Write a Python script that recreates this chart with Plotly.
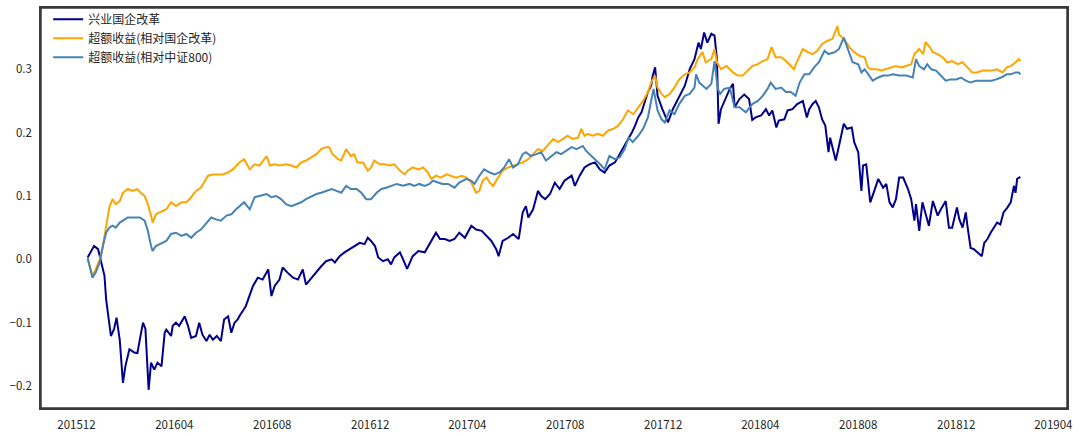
import pandas as pd
import plotly.graph_objects as go

# ---------------- data ----------------
navy_dates = [
    "2015-12-15","2015-12-23","2015-12-28","2015-12-30","2015-12-31",
    "2016-01-05","2016-01-07","2016-01-11","2016-01-13","2016-01-17","2016-01-20","2016-01-24","2016-01-28","2016-01-31",
    "2016-02-05","2016-02-11","2016-02-15","2016-02-18","2016-02-22","2016-02-25","2016-02-27","2016-02-29",
    "2016-03-03","2016-03-07","2016-03-11","2016-03-16","2016-03-20","2016-03-22","2016-03-28","2016-03-30",
    "2016-04-03","2016-04-07","2016-04-14","2016-04-18","2016-04-22","2016-04-28",
    "2016-05-02","2016-05-06","2016-05-11","2016-05-15","2016-05-19","2016-05-24","2016-05-29",
    "2016-06-02","2016-06-07","2016-06-11","2016-06-15","2016-06-19","2016-06-21","2016-06-29",
    "2016-07-08","2016-07-14","2016-07-20","2016-07-27","2016-07-31",
    "2016-08-04","2016-08-10","2016-08-14","2016-08-20","2016-08-27",
    "2016-09-02","2016-09-08","2016-09-12","2016-09-19","2016-09-25",
    "2016-10-01","2016-10-07","2016-10-14","2016-10-18","2016-10-24","2016-10-30",
    "2016-11-05","2016-11-12","2016-11-18","2016-11-24","2016-11-28",
    "2016-12-02","2016-12-07","2016-12-11","2016-12-17","2016-12-23","2016-12-27","2016-12-31",
    "2017-01-07","2017-01-11","2017-01-16","2017-01-23","2017-01-30",
    "2017-02-07","2017-02-13","2017-02-21","2017-02-26",
    "2017-03-04","2017-03-10","2017-03-16","2017-03-22","2017-03-29",
    "2017-04-06","2017-04-12","2017-04-19","2017-04-25","2017-05-01",
    "2017-05-07","2017-05-10","2017-05-15","2017-05-22","2017-05-28",
    "2017-06-04","2017-06-09","2017-06-13","2017-06-16","2017-06-22","2017-06-28",
    "2017-07-02","2017-07-07","2017-07-13","2017-07-19","2017-07-25","2017-07-31",
    "2017-08-09","2017-08-13","2017-08-19","2017-08-25","2017-08-31",
    "2017-09-07","2017-09-13","2017-09-19","2017-09-25",
    "2017-10-02","2017-10-08","2017-10-14","2017-10-18","2017-10-23","2017-10-27","2017-10-31",
    "2017-11-04","2017-11-08","2017-11-12","2017-11-16","2017-11-18","2017-11-21","2017-11-24","2017-11-30",
    "2017-12-07","2017-12-13","2017-12-21","2017-12-28",
    "2018-01-03","2018-01-09","2018-01-14","2018-01-17","2018-01-21","2018-01-25","2018-01-30",
    "2018-02-03","2018-02-06","2018-02-08","2018-02-11","2018-02-18","2018-02-22","2018-02-26","2018-02-28",
    "2018-03-06","2018-03-12","2018-03-18","2018-03-22","2018-03-26",
    "2018-04-02","2018-04-08","2018-04-12","2018-04-16","2018-04-21","2018-04-24",
    "2018-05-01","2018-05-05","2018-05-11","2018-05-17","2018-05-24","2018-05-29",
    "2018-06-01","2018-06-05","2018-06-09","2018-06-13","2018-06-17","2018-06-21","2018-06-25","2018-06-27",
    "2018-07-04","2018-07-08","2018-07-14","2018-07-18","2018-07-24","2018-07-27",
    "2018-08-01","2018-08-05","2018-08-07","2018-08-11","2018-08-16","2018-08-21","2018-08-26",
    "2018-09-01","2018-09-05","2018-09-09","2018-09-13","2018-09-17","2018-09-21","2018-09-26",
    "2018-10-02","2018-10-06","2018-10-10","2018-10-12","2018-10-16","2018-10-20","2018-10-24","2018-10-28",
    "2018-11-02","2018-11-08","2018-11-12","2018-11-18","2018-11-22","2018-11-26",
    "2018-12-02","2018-12-05","2018-12-09","2018-12-13","2018-12-15","2018-12-19","2018-12-23","2018-12-27",
    "2019-01-02","2019-01-05","2019-01-09","2019-01-13","2019-01-17","2019-01-21","2019-01-25","2019-01-29",
    "2019-02-03","2019-02-07","2019-02-11","2019-02-13","2019-02-15","2019-02-19",
]
navy_values = [
    0.003,0.021,0.016,0.005,0.000,
    -0.026,-0.063,-0.100,-0.121,-0.110,-0.092,-0.127,-0.195,-0.169,
    -0.142,-0.147,-0.148,-0.127,-0.100,-0.110,-0.163,-0.206,
    -0.163,-0.174,-0.163,-0.169,-0.116,-0.111,-0.121,-0.105,
    -0.100,-0.105,-0.090,-0.105,-0.124,-0.121,
    -0.100,-0.119,-0.129,-0.119,-0.127,-0.121,-0.129,
    -0.095,-0.090,-0.116,-0.100,-0.095,-0.090,-0.074,
    -0.042,-0.029,-0.032,-0.016,-0.058,
    -0.042,-0.032,-0.013,-0.021,-0.029,
    -0.032,-0.016,-0.040,-0.029,-0.021,
    -0.011,-0.003,0.000,-0.005,0.005,0.011,
    0.016,0.021,0.026,0.024,0.034,
    0.029,0.021,0.003,-0.003,0.000,-0.008,0.003,
    0.011,0.000,-0.015,0.005,0.013,
    0.011,0.024,0.042,0.032,
    0.032,0.029,0.032,0.042,0.034,
    0.053,0.047,0.045,0.037,0.029,
    0.016,0.005,0.029,0.034,0.040,
    0.032,0.074,0.084,0.066,0.079,0.108,
    0.100,0.095,0.103,0.121,0.111,0.124,
    0.132,0.116,0.132,0.145,0.150,
    0.153,0.142,0.137,0.148,
    0.153,0.166,0.179,0.190,0.200,0.211,0.224,
    0.232,0.250,0.264,0.274,0.290,0.303,0.258,0.237,
    0.216,0.237,0.258,0.274,
    0.300,0.316,0.342,0.332,0.358,0.342,0.356,
    0.353,0.316,0.214,0.237,0.258,0.269,0.277,0.240,
    0.253,0.260,0.253,0.220,0.224,
    0.227,0.237,0.227,0.235,0.208,0.219,
    0.221,0.235,0.237,0.245,0.250,0.224,
    0.237,0.245,0.250,0.240,0.221,0.211,0.169,0.192,
    0.156,0.179,0.214,0.206,0.208,0.185,
    0.169,0.108,0.148,0.150,0.090,0.108,0.127,
    0.113,0.119,0.090,0.082,0.095,0.129,0.129,
    0.111,0.095,0.061,0.087,0.045,0.090,0.071,0.053,
    0.092,0.069,0.079,0.092,0.050,0.050,
    0.082,0.063,0.050,0.074,0.053,0.018,0.016,0.011,
    0.005,0.026,0.032,0.042,0.050,0.058,0.055,0.074,
    0.082,0.090,0.116,0.105,0.127,0.130,
]

orange_dates = [
    "2015-12-15","2015-12-21","2015-12-25","2015-12-30",
    "2016-01-03","2016-01-07","2016-01-11","2016-01-15","2016-01-19","2016-01-24","2016-01-28",
    "2016-02-03","2016-02-09","2016-02-15","2016-02-19","2016-02-24","2016-02-28",
    "2016-03-03","2016-03-05","2016-03-09","2016-03-16","2016-03-22","2016-03-28",
    "2016-04-03","2016-04-10","2016-04-16","2016-04-22","2016-04-28",
    "2016-05-04","2016-05-09","2016-05-13","2016-05-19","2016-05-25","2016-05-31",
    "2016-06-07","2016-06-13","2016-06-19","2016-06-21","2016-06-27",
    "2016-07-04","2016-07-10","2016-07-16","2016-07-25","2016-07-29",
    "2016-08-04","2016-08-10","2016-08-18","2016-08-25","2016-08-31",
    "2016-09-06","2016-09-12","2016-09-19","2016-09-25",
    "2016-10-01","2016-10-07","2016-10-11","2016-10-15","2016-10-22","2016-10-26",
    "2016-11-01","2016-11-07","2016-11-11","2016-11-15","2016-11-22","2016-11-28",
    "2016-12-02","2016-12-06","2016-12-13","2016-12-19","2016-12-25","2016-12-31",
    "2017-01-07","2017-01-13","2017-01-17","2017-01-23","2017-01-30",
    "2017-02-05","2017-02-11","2017-02-15","2017-02-21","2017-02-27",
    "2017-03-06","2017-03-12","2017-03-18","2017-03-25","2017-03-31",
    "2017-04-06","2017-04-12","2017-04-16","2017-04-20","2017-04-25","2017-04-29",
    "2017-05-03","2017-05-09","2017-05-15","2017-05-22","2017-05-28",
    "2017-06-03","2017-06-09","2017-06-16","2017-06-22","2017-06-28",
    "2017-07-04","2017-07-10","2017-07-17","2017-07-23","2017-07-29",
    "2017-08-04","2017-08-10","2017-08-17","2017-08-21","2017-08-25","2017-08-29",
    "2017-09-04","2017-09-11","2017-09-17","2017-09-23","2017-09-30",
    "2017-10-06","2017-10-12","2017-10-18","2017-10-25","2017-10-31",
    "2017-11-06","2017-11-12","2017-11-16","2017-11-21","2017-11-24","2017-11-29",
    "2017-12-03","2017-12-09","2017-12-15","2017-12-21","2017-12-28",
    "2018-01-03","2018-01-09","2018-01-13","2018-01-17","2018-01-19","2018-01-23","2018-01-30",
    "2018-02-03","2018-02-06","2018-02-11","2018-02-18","2018-02-26",
    "2018-03-04","2018-03-10","2018-03-16","2018-03-22","2018-03-29",
    "2018-04-04","2018-04-10","2018-04-15","2018-04-20","2018-04-27",
    "2018-05-03","2018-05-09","2018-05-13","2018-05-17","2018-05-24","2018-05-30",
    "2018-06-05","2018-06-11","2018-06-17","2018-06-24","2018-06-30",
    "2018-07-06","2018-07-08","2018-07-14","2018-07-21","2018-07-27",
    "2018-08-03","2018-08-09","2018-08-13","2018-08-17","2018-08-24","2018-08-30",
    "2018-09-05","2018-09-11","2018-09-17","2018-09-24","2018-09-30",
    "2018-10-06","2018-10-10","2018-10-16","2018-10-21","2018-10-24","2018-10-29",
    "2018-11-02","2018-11-08","2018-11-14","2018-11-20","2018-11-26",
    "2018-12-03","2018-12-09","2018-12-15","2018-12-21","2018-12-27",
    "2019-01-03","2019-01-09","2019-01-15","2019-01-21","2019-01-28",
    "2019-02-02","2019-02-07","2019-02-13","2019-02-17","2019-02-19",
]
orange_values = [
    0.000,-0.026,-0.016,0.000,
    0.021,0.053,0.082,0.095,0.087,0.092,0.105,
    0.111,0.108,0.111,0.105,0.100,0.087,
    0.069,0.058,0.071,0.076,0.079,0.090,
    0.084,0.090,0.090,0.098,0.108,
    0.113,0.124,0.132,0.134,0.134,0.134,
    0.137,0.142,0.150,0.153,0.158,
    0.142,0.150,0.148,0.163,0.148,
    0.150,0.148,0.150,0.148,0.145,
    0.153,0.156,0.161,0.166,
    0.174,0.177,0.177,0.166,0.158,0.156,
    0.174,0.163,0.166,0.153,0.153,0.140,
    0.145,0.156,0.150,0.150,0.148,0.150,
    0.140,0.134,0.140,0.145,0.142,
    0.145,0.137,0.127,0.132,0.129,
    0.134,0.132,0.129,0.132,0.129,
    0.121,0.105,0.108,0.124,0.129,0.121,
    0.116,0.129,0.140,0.145,0.148,
    0.150,0.153,0.158,0.166,0.174,
    0.171,0.179,0.190,0.185,0.190,
    0.195,0.190,0.192,0.206,0.195,0.198,
    0.195,0.198,0.195,0.203,0.206,
    0.211,0.221,0.235,0.229,0.240,
    0.250,0.264,0.279,0.290,0.271,0.261,
    0.256,0.261,0.271,0.284,0.292,
    0.295,0.303,0.316,0.324,0.327,0.311,0.316,
    0.332,0.311,0.300,0.305,0.295,
    0.290,0.290,0.298,0.305,0.308,
    0.313,0.316,0.335,0.319,0.319,
    0.313,0.305,0.300,0.313,0.332,0.327,
    0.324,0.329,0.340,0.345,0.348,
    0.368,0.355,0.348,0.335,0.327,
    0.321,0.319,0.303,0.300,0.300,0.298,
    0.300,0.303,0.305,0.303,0.305,
    0.308,0.324,0.332,0.324,0.343,0.335,
    0.327,0.324,0.319,0.311,0.313,
    0.308,0.311,0.303,0.295,0.295,
    0.298,0.298,0.298,0.300,0.295,
    0.303,0.305,0.311,0.316,0.313,
]

blue_dates = [
    "2015-12-15","2015-12-19","2015-12-21","2015-12-25","2015-12-30",
    "2016-01-03","2016-01-07","2016-01-11","2016-01-15","2016-01-19","2016-01-24",
    "2016-02-03","2016-02-09","2016-02-18","2016-02-24","2016-02-28",
    "2016-03-03","2016-03-05","2016-03-09","2016-03-16","2016-03-22","2016-03-28",
    "2016-04-03","2016-04-10","2016-04-16","2016-04-22","2016-04-28",
    "2016-05-04","2016-05-11","2016-05-17","2016-05-23","2016-05-29",
    "2016-06-05","2016-06-11","2016-06-17","2016-06-21","2016-06-27",
    "2016-07-04","2016-07-10","2016-07-16","2016-07-25","2016-07-31",
    "2016-08-06","2016-08-12","2016-08-18","2016-08-25","2016-08-31",
    "2016-09-06","2016-09-12","2016-09-19","2016-09-25",
    "2016-10-01","2016-10-07","2016-10-14","2016-10-20","2016-10-26",
    "2016-11-01","2016-11-07","2016-11-14","2016-11-20","2016-11-26",
    "2016-12-02","2016-12-09","2016-12-15","2016-12-21","2016-12-27",
    "2017-01-03","2017-01-11","2017-01-19","2017-01-25","2017-01-31",
    "2017-02-07","2017-02-13","2017-02-17","2017-02-23",
    "2017-03-01","2017-03-08","2017-03-16","2017-03-22","2017-03-31",
    "2017-04-06","2017-04-10","2017-04-16","2017-04-22","2017-04-29",
    "2017-05-05","2017-05-11","2017-05-17","2017-05-23","2017-05-28",
    "2017-06-03","2017-06-09","2017-06-13","2017-06-19","2017-06-26",
    "2017-07-02","2017-07-08","2017-07-15","2017-07-21","2017-07-27",
    "2017-08-02","2017-08-09","2017-08-15","2017-08-23","2017-08-27",
    "2017-09-03","2017-09-09","2017-09-15","2017-09-19","2017-09-25",
    "2017-10-02","2017-10-08","2017-10-14","2017-10-19","2017-10-24","2017-10-31",
    "2017-11-06","2017-11-12","2017-11-16","2017-11-19","2017-11-24","2017-11-29",
    "2017-12-03","2017-12-09","2017-12-15","2017-12-21","2017-12-28",
    "2018-01-03","2018-01-09","2018-01-11","2018-01-15","2018-01-24","2018-01-30",
    "2018-02-03","2018-02-07","2018-02-10","2018-02-15","2018-02-22","2018-02-28",
    "2018-03-06","2018-03-14","2018-03-22","2018-03-29",
    "2018-04-04","2018-04-10","2018-04-14","2018-04-20","2018-04-27",
    "2018-05-03","2018-05-09","2018-05-15","2018-05-20","2018-05-26",
    "2018-06-01","2018-06-07","2018-06-13","2018-06-20","2018-06-25",
    "2018-07-03","2018-07-08","2018-07-14","2018-07-21","2018-07-25",
    "2018-08-01","2018-08-05","2018-08-09","2018-08-13","2018-08-19","2018-08-26",
    "2018-09-01","2018-09-07","2018-09-13","2018-09-21","2018-09-30",
    "2018-10-08","2018-10-12","2018-10-16","2018-10-22","2018-10-26","2018-10-31",
    "2018-11-06","2018-11-12","2018-11-18","2018-11-24",
    "2018-12-01","2018-12-07","2018-12-13","2018-12-19","2018-12-26",
    "2019-01-01","2019-01-08","2019-01-14","2019-01-20","2019-01-26",
    "2019-02-02","2019-02-07","2019-02-13","2019-02-17","2019-02-19",
]
blue_values = [
    0.003,-0.018,-0.029,-0.021,-0.005,
    0.021,0.042,0.050,0.053,0.050,0.058,
    0.066,0.066,0.066,0.061,0.045,
    0.021,0.013,0.021,0.026,0.029,0.040,
    0.042,0.037,0.040,0.034,0.042,
    0.047,0.058,0.066,0.063,0.061,
    0.069,0.071,0.079,0.084,0.090,
    0.079,0.098,0.100,0.103,0.098,
    0.100,0.095,0.087,0.084,0.087,
    0.090,0.095,0.100,0.103,
    0.105,0.108,0.111,0.108,0.105,
    0.116,0.111,0.111,0.105,0.095,
    0.095,0.105,0.111,0.113,0.116,
    0.119,0.116,0.119,0.116,0.119,
    0.116,0.119,0.124,0.121,
    0.119,0.119,0.113,0.121,0.127,
    0.124,0.119,0.132,0.142,0.137,
    0.134,0.137,0.145,0.158,0.145,
    0.150,0.166,0.169,0.163,0.166,
    0.169,0.156,0.163,0.169,0.166,
    0.171,0.177,0.174,0.179,0.171,
    0.163,0.156,0.148,0.142,0.163,
    0.158,0.161,0.174,0.192,0.185,0.195,
    0.206,0.224,0.250,0.269,0.235,0.221,
    0.216,0.235,0.229,0.245,0.258,
    0.261,0.271,0.292,0.279,0.269,0.277,
    0.313,0.269,0.261,0.269,0.271,0.240,
    0.240,0.232,0.245,0.250,
    0.258,0.269,0.279,0.269,0.271,
    0.264,0.264,0.258,0.279,0.292,
    0.292,0.303,0.311,0.329,0.324,
    0.327,0.332,0.350,0.324,0.311,
    0.308,0.295,0.300,0.292,0.282,0.287,
    0.290,0.290,0.292,0.290,0.290,
    0.287,0.316,0.305,0.300,0.308,0.300,
    0.298,0.290,0.282,0.284,
    0.284,0.287,0.282,0.279,0.282,
    0.282,0.282,0.282,0.284,0.287,
    0.292,0.292,0.295,0.295,0.292,
]

series_names = ["兴业国企改革", "超额收益(相对国企改革)", "超额收益(相对中证800)"]
series_colors = ["#00008B", "#FFA500", "#4682B4"]

tick_start = "2015-12-01"
tick_end = "2019-04-01"

# ---------------- figure ----------------
series = [
    (navy_dates, navy_values),
    (orange_dates, orange_values),
    (blue_dates, blue_values),
]
for d, v in series:
    assert len(d) == len(v)

fig = go.Figure()
for (d, v), name, color in zip(series, series_names, series_colors):
    fig.add_trace(go.Scatter(
        x=pd.to_datetime(d), y=v, mode="lines", name=name,
        line=dict(color=color, width=2),
    ))

# matplotlib-like 5% margins around the data
all_x = pd.to_datetime(navy_dates + orange_dates + blue_dates)
xmin, xmax = all_x.min(), all_x.max()
xpad = (xmax - xmin) * 0.05
all_y = navy_values + orange_values + blue_values
ymin, ymax = min(all_y), max(all_y)
ypad = (ymax - ymin) * 0.05

tickvals = pd.date_range(tick_start, tick_end, freq="4MS")
ticktext = [t.strftime("%Y%m") for t in tickvals]

font_family = "Noto Sans CJK SC, Noto Sans, sans-serif"
axis_color = "#3a3a3a"
text_color = "#262626"

frame = dict(showline=True, mirror=True, linecolor=axis_color, linewidth=1.5)

fig.update_layout(
    width=1080, height=436,
    margin=dict(l=41, r=13, t=8, b=28, autoexpand=False),
    paper_bgcolor="white", plot_bgcolor="white",
    font=dict(family=font_family, size=12, color=text_color),
    showlegend=True,
    legend=dict(
        x=0.007, y=1.008, xanchor="left", yanchor="top",
        bgcolor="rgba(0,0,0,0)", borderwidth=0,
        font=dict(family=font_family, size=12, color=text_color),
        tracegroupgap=0,
    ),
    xaxis=dict(
        type="date", automargin=False,
        range=[xmin - xpad, xmax + xpad],
        tickvals=tickvals, ticktext=ticktext,
        showgrid=False, zeroline=False,
        ticks="outside", ticklen=5, tickcolor="rgba(0,0,0,0)",
        tickfont=dict(size=11.5, color=text_color),
        **frame,
    ),
    yaxis=dict(
        automargin=False,
        range=[ymin - ypad, ymax + ypad],
        tick0=0, dtick=0.1, tickformat=".1f",
        showgrid=False, zeroline=False,
        ticks="outside", ticklen=5, tickcolor="rgba(0,0,0,0)",
        tickfont=dict(size=11.5, color=text_color),
        **frame,
    ),
    shapes=[dict(
        type="rect", xref="paper", yref="paper", x0=0, x1=1, y0=0, y1=1,
        line=dict(color=axis_color, width=1.5), fillcolor="rgba(0,0,0,0)",
        layer="above",
    )],
)

# remove the browser's default 8px page margin so the figure fills the window
fig.write_html(
    "out.html",
    config={"displayModeBar": False},
    post_script="document.body.style.margin='0';",
)
